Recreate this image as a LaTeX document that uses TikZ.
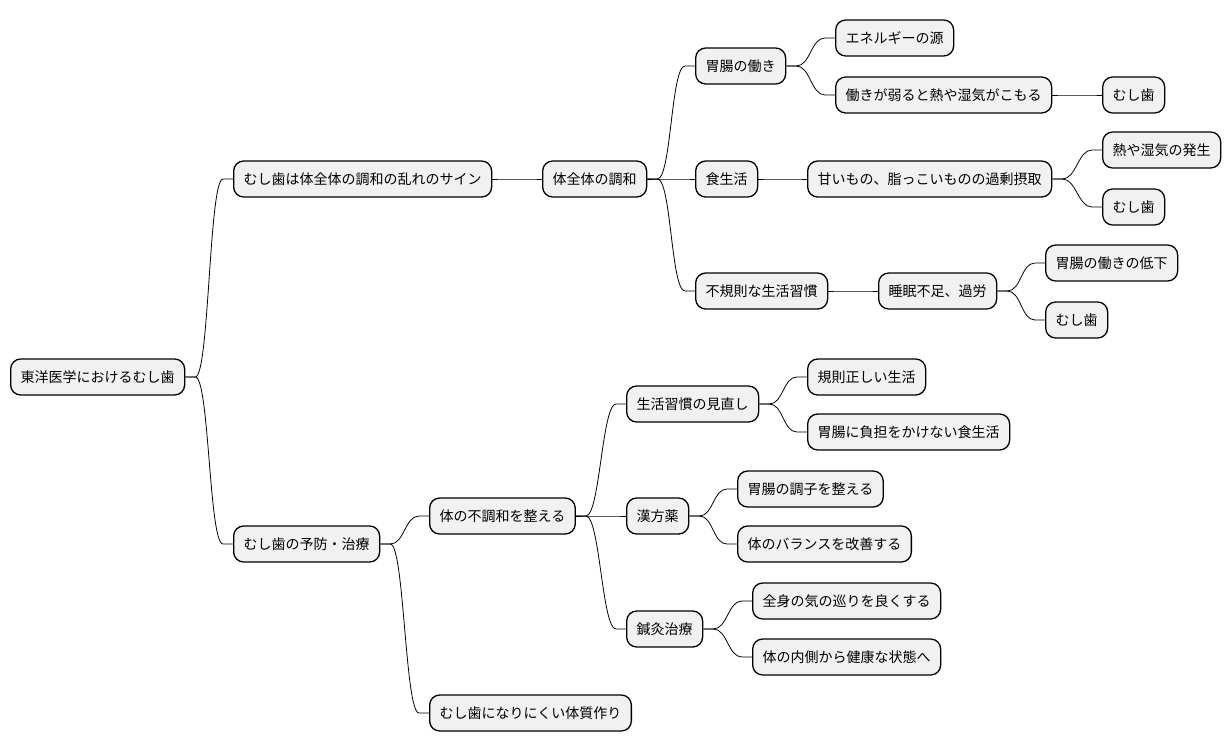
\documentclass[tikz,border=0pt]{standalone}
\usepackage{fontspec}
\newfontfamily\jpfont{Noto Sans CJK JP}
\usepackage{tikz}
\usetikzlibrary{
	calc,
	positioning
}
\definecolor{boxfill}{HTML}{F1F1F1}

\begin{document}
\begin{tikzpicture}[
					x=1pt, y=-1pt,
					topic/.style={
							rectangle,
							rounded corners=10pt,
							draw=black,
							line width=1.3pt,
							fill=boxfill,
							minimum height=36pt,
							inner xsep=10pt,
							anchor=west,
							font=\jpfont\fontsize{14}{16}\selectfont
						},
					link/.style={
							line width=0.8pt,
							to path={-- ++(10,0) .. controls +(14,0) and +(-14,0) .. ($(\tikztotarget.west)+(-10,0)$) -- (\tikztotarget.west)}
						}
				]
				\useasboundingbox (0,0) rectangle (1230,752);

				% root and first level
				\node[topic] (root) at (10, 377) {東洋医学におけるむし歯};
				\node[topic] (sign) at (233, 179) {むし歯は体全体の調和の乱れのサイン};
				\node[topic] (care) at (233, 544) {むし歯の予防・治療};

				% upper branch
				\node[topic] (whole) at (542, 179) {体全体の調和};
				\node[topic] (gut) at (695, 66) {胃腸の働き};
				\node[topic] (energy) at (835, 38) {エネルギーの源};
				\node[topic] (weak) at (835, 95) {働きが弱ると熱や湿気がこもる};
				\node[topic] (caries1) at (1102, 95) {むし歯};
				\node[topic] (diet) at (695, 179) {食生活};
				\node[topic] (excess) at (807, 179) {甘いもの、脂っこいものの過剰摂取};
				\node[topic] (heat) at (1102, 150) {熱や湿気の発生};
				\node[topic] (caries2) at (1102, 207) {むし歯};
				\node[topic] (habit) at (695, 291) {不規則な生活習慣};
				\node[topic] (sleep) at (878, 291) {睡眠不足、過労};
				\node[topic] (gutlow) at (1045, 263) {胃腸の働きの低下};
				\node[topic] (caries3) at (1045, 320) {むし歯};

				% lower branch
				\node[topic] (balance) at (429, 516) {体の不調和を整える};
				\node[topic] (body) at (429, 713) {むし歯になりにくい体質作り};
				\node[topic] (review) at (626, 404) {生活習慣の見直し};
				\node[topic] (regular) at (807, 377) {規則正しい生活};
				\node[topic] (gentle) at (807, 432) {胃腸に負担をかけない食生活};
				\node[topic] (kampo) at (626, 516) {漢方薬};
				\node[topic] (tune) at (737, 489) {胃腸の調子を整える};
				\node[topic] (improve) at (737, 544) {体のバランスを改善する};
				\node[topic] (acu) at (626, 629) {鍼灸治療};
				\node[topic] (flow) at (752, 601) {全身の気の巡りを良くする};
				\node[topic] (inside) at (752, 657) {体の内側から健康な状態へ};

				\draw[link] (root.east) to (sign);
				\draw[link] (root.east) to (care);
				\draw[link] (sign.east) to (whole);
				\draw[link] (whole.east) to (gut);
				\draw[link] (whole.east) to (diet);
				\draw[link] (whole.east) to (habit);
				\draw[link] (gut.east) to (energy);
				\draw[link] (gut.east) to (weak);
				\draw[link] (weak.east) to (caries1);
				\draw[link] (diet.east) to (excess);
				\draw[link] (excess.east) to (heat);
				\draw[link] (excess.east) to (caries2);
				\draw[link] (habit.east) to (sleep);
				\draw[link] (sleep.east) to (gutlow);
				\draw[link] (sleep.east) to (caries3);
				\draw[link] (care.east) to (balance);
				\draw[link] (care.east) to (body);
				\draw[link] (balance.east) to (review);
				\draw[link] (balance.east) to (kampo);
				\draw[link] (balance.east) to (acu);
				\draw[link] (review.east) to (regular);
				\draw[link] (review.east) to (gentle);
				\draw[link] (kampo.east) to (tune);
				\draw[link] (kampo.east) to (improve);
				\draw[link] (acu.east) to (flow);
				\draw[link] (acu.east) to (inside);
		\end{tikzpicture}
\end{document}
